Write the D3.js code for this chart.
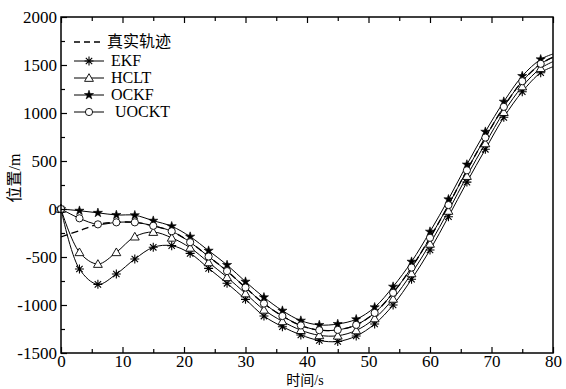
<!DOCTYPE html>
<html>
<head>
<meta charset="utf-8">
<script src="https://cdn.jsdelivr.net/npm/d3@7/dist/d3.min.js"></script>
<style>
  body { margin: 0; background: #fff; }
  svg { display: block; }
  text { font-family: "Liberation Serif", "Noto Sans CJK SC", serif; fill: #000; }
</style>
</head>
<body>
<div id="chart"></div>
<script>
// chart data, markers every 3 s, lines run to 80 s
var times = [0, 3, 6, 9, 12, 15, 18, 21, 24, 27, 30, 33, 36, 39, 42, 45, 48, 51, 54, 57, 60, 63, 66, 69, 72, 75, 78, 80];

var truthVals = [-290, -225, -160, -139, -139, -175, -232, -346, -495, -647, -818, -985, -1115, -1213, -1262, -1259, -1207, -1082, -873, -610, -300, 41, 403, 744, 1064, 1331, 1512, 1580];
var ekfVals   = [0, -625, -785, -677, -521, -399, -382, -462, -618, -774, -941, -1115, -1226, -1312, -1370, -1380, -1323, -1198, -1000, -732, -427, -80, 280, 622, 955, 1222, 1420, 1482];
var hcltVals  = [0, -451, -573, -451, -288, -240, -300, -404, -556, -711, -880, -1050, -1170, -1262, -1316, -1320, -1265, -1140, -936, -671, -363, -20, 343, 683, 1009, 1276, 1466, 1535];
var ockfVals  = [0, -18, -40, -62, -65, -122, -180, -288, -434, -583, -757, -920, -1059, -1163, -1208, -1198, -1149, -1024, -809, -549, -236, 101, 463, 805, 1118, 1385, 1559, 1615];
var uocktVals = [0, -97, -160, -139, -139, -175, -232, -346, -495, -647, -818, -985, -1115, -1213, -1262, -1259, -1207, -1082, -873, -610, -300, 41, 403, 744, 1064, 1331, 1512, 1580];

var xTicks = [0, 10, 20, 30, 40, 50, 60, 70, 80];
var xMinor = [5, 15, 25, 35, 45, 55, 65, 75];
var yTicks = [-1500, -1000, -500, 0, 500, 1000, 1500, 2000];
var yMinor = [-1250, -750, -250, 250, 750, 1250, 1750];

var legendNames = ["真实轨迹", "EKF", "HCLT", "OCKF", " UOCKT"];

// svg setup
var svgWidth = 566;
var svgHeight = 389;
var plot = { left: 61, right: 553, top: 17, bottom: 353 };

var svg = d3.select("#chart")
    .append("svg")
    .attr("width", svgWidth)
    .attr("height", svgHeight);

var xScale = d3.scaleLinear().domain([0, 80]).range([plot.left, plot.right]);
var yScale = d3.scaleLinear().domain([-1500, 2000]).range([plot.bottom, plot.top]);

// clip so the curves stop at the frame
svg.append("clipPath").attr("id", "clip")
    .append("rect")
    .attr("x", plot.left).attr("y", plot.top)
    .attr("width", plot.right - plot.left).attr("height", plot.bottom - plot.top);

var line = d3.line()
    .x(d => xScale(d.t))
    .y(d => yScale(d.v))
    .curve(d3.curveCatmullRom);

function pts(vals) {
    return times.map((t, i) => ({ t: t, v: vals[i] }));
}

var lineGroup = svg.append("g").attr("clip-path", "url(#clip)");

// true trajectory (dashed)
lineGroup.append("path")
    .attr("d", line(pts(truthVals)))
    .attr("fill", "none")
    .attr("stroke", "#000")
    .attr("stroke-width", 1.3)
    .attr("stroke-dasharray", "7,4");

// marker shapes
var asterisk = "M0,-4.5L0,4.5M-4.5,0L4.5,0M-3.2,-3.2L3.2,3.2M-3.2,3.2L3.2,-3.2";
function drawMarker(g, kind) {
    if (kind === "ekf") {
        g.append("path").attr("d", asterisk)
            .attr("stroke", "#000").attr("stroke-width", 1.1).attr("fill", "none");
    } else if (kind === "hclt") {
        g.append("path").attr("d", d3.symbol(d3.symbolTriangle, 34)())
            .attr("transform", "translate(0,0.8)")
            .attr("fill", "#fff").attr("stroke", "#000").attr("stroke-width", 0.9);
    } else if (kind === "ockf") {
        g.append("path").attr("d", d3.symbol(d3.symbolStar, 26)())
            .attr("fill", "#000").attr("stroke", "#000").attr("stroke-width", 0.6);
    } else {
        g.append("circle").attr("r", 3.6)
            .attr("fill", "#fff").attr("stroke", "#000").attr("stroke-width", 0.9);
    }
}

var series = [
    { kind: "ekf", vals: ekfVals },
    { kind: "hclt", vals: hcltVals },
    { kind: "ockf", vals: ockfVals },
    { kind: "uockt", vals: uocktVals }
];

series.forEach(function(s) {
    lineGroup.append("path")
        .attr("d", line(pts(s.vals)))
        .attr("fill", "none")
        .attr("stroke", "#000")
        .attr("stroke-width", 1);
});

series.forEach(function(s) {
    pts(s.vals).filter(d => d.t % 3 === 0).forEach(function(d) {
        var g = svg.append("g")
            .attr("transform", `translate(${xScale(d.t)},${yScale(d.v)})`);
        drawMarker(g, s.kind);
    });
});

// axes
var bottomAxis = d3.axisBottom(xScale).tickValues(xTicks)
    .tickSizeInner(-6).tickSizeOuter(0).tickPadding(2)
    .tickFormat(d => String(d));
var xAxis = svg.append("g")
    .attr("transform", `translate(0, ${plot.bottom})`)
    .call(bottomAxis);
svg.append("g").attr("transform", `translate(0, ${plot.bottom})`)
    .call(d3.axisBottom(xScale).tickValues(xMinor).tickSizeInner(-4).tickSizeOuter(0).tickFormat(""));

var topAxis = svg.append("g").attr("transform", `translate(0, ${plot.top})`)
    .call(d3.axisTop(xScale).tickValues(xTicks).tickSizeInner(-6).tickSizeOuter(0).tickFormat(""));
svg.append("g").attr("transform", `translate(0, ${plot.top})`)
    .call(d3.axisTop(xScale).tickValues(xMinor).tickSizeInner(-4).tickSizeOuter(0).tickFormat(""));

var leftAxis = d3.axisLeft(yScale).tickValues(yTicks)
    .tickSizeInner(-6).tickSizeOuter(0).tickPadding(4)
    .tickFormat(d => String(d));
var yAxis = svg.append("g")
    .attr("transform", `translate(${plot.left}, 0)`)
    .call(leftAxis);
svg.append("g").attr("transform", `translate(${plot.left}, 0)`)
    .call(d3.axisLeft(yScale).tickValues(yMinor).tickSizeInner(-4).tickSizeOuter(0).tickFormat(""));

svg.selectAll(".tick line").attr("stroke", "#000").attr("stroke-width", 1.2);
svg.selectAll(".domain").remove();
svg.selectAll(".tick text")
    .style("font-family", "'Liberation Serif', serif")
    .style("font-size", "17px");

// frame
svg.append("rect")
    .attr("x", plot.left).attr("y", plot.top)
    .attr("width", plot.right - plot.left).attr("height", plot.bottom - plot.top)
    .attr("fill", "none").attr("stroke", "#000").attr("stroke-width", 1.5);

// axis labels
svg.append("text")
    .attr("x", (plot.left + plot.right) / 2 - 2)
    .attr("y", 385)
    .attr("text-anchor", "middle")
    .style("font-size", "14px")
    .text("时间/s");

svg.append("text")
    .attr("transform", "translate(20, 178) rotate(-90)")
    .attr("text-anchor", "middle")
    .style("font-size", "16px")
    .text("位置/m");

// legend
var legendY = [42, 61, 78, 95, 112];
var legend = svg.append("g");
legendNames.forEach(function(name, i) {
    var y = legendY[i];
    var row = legend.append("g");
    row.append("line")
        .attr("x1", 74).attr("x2", 104)
        .attr("y1", y).attr("y2", y)
        .attr("stroke", "#000")
        .attr("stroke-width", i === 0 ? 1.5 : 1)
        .attr("stroke-dasharray", i === 0 ? "6,4" : null);
    if (i > 0) {
        var g = row.append("g").attr("transform", `translate(89, ${y})`);
        drawMarker(g, series[i - 1].kind);
    }
    row.append("text")
        .attr("x", i === 0 ? 107 : 111)
        .attr("y", y + 5)
        .style("font-size", "16px")
        .attr("xml:space", "preserve")
        .text(name);
});
</script>
</body>
</html>
